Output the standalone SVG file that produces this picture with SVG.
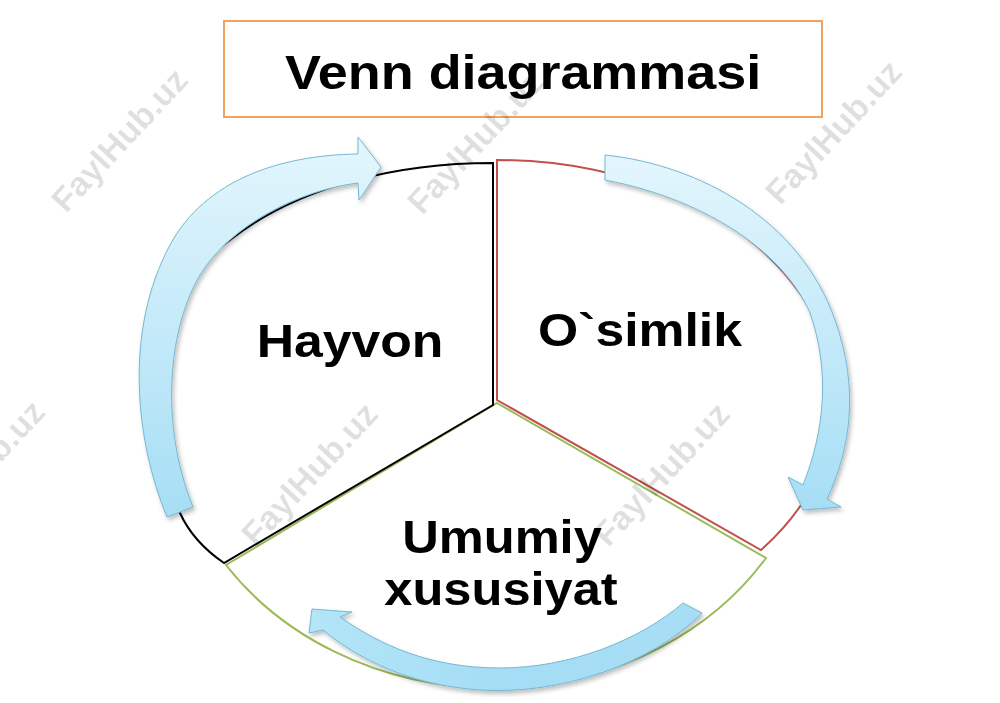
<svg xmlns="http://www.w3.org/2000/svg" width="1000" height="703" viewBox="0 0 1000 703">
  <style>
    .lbl { font-family: "Liberation Sans", Arial, sans-serif; font-weight: bold; fill: #000; text-anchor: middle; }
    .wm { font-family: "Liberation Sans", Arial, sans-serif; font-weight: bold; fill: #000; fill-opacity: 0.12; font-size: 34px; text-anchor: middle; }
    .arrow { stroke: #74b8d0; stroke-width: 1; stroke-linejoin: miter; filter: url(#shadow); }
  </style>
  <defs>
    <linearGradient id="gradV" x1="0" y1="0" x2="0" y2="1">
      <stop offset="0" stop-color="#e4f6fd"/>
      <stop offset="1" stop-color="#a6def5"/>
    </linearGradient>
    <linearGradient id="gradB" x1="0" y1="0" x2="1" y2="0">
      <stop offset="0" stop-color="#b4e5f8"/>
      <stop offset="0.5" stop-color="#a4ddf5"/>
      <stop offset="1" stop-color="#a8def5"/>
    </linearGradient>
    <filter id="shadow" x="-10%" y="-10%" width="130%" height="130%">
      <feDropShadow dx="2" dy="3" stdDeviation="2" flood-color="#000" flood-opacity="0.25"/>
    </filter>
  </defs>
  <rect width="1000" height="703" fill="#fff"/>

  <g id="title">
    <rect x="224" y="21" width="598" height="96" fill="#fff" stroke="#f1a25f" stroke-width="2"/>
    <text class="lbl" font-size="49" transform="translate(523,89) scale(1.1,1)">Venn diagrammasi</text>
  </g>

  <g id="sector-umumiy">
    <path d="M497,403 L766,558 A323,280 0 0 1 226,565 Z" fill="#fff" stroke="#9bbb59" stroke-width="2"/>
    <text class="lbl" font-size="46" transform="translate(502,553) scale(1.1,1)">Umumiy</text>
    <text class="lbl" font-size="46" transform="translate(501,605) scale(1.1,1)">xususiyat</text>
  </g>

  <g id="sector-hayvon">
    <path d="M493,405 L493,163 C400,163 300,185 230,240 C150,295 125,420 180,513 C190,535 205,550 224,563 Z" fill="#fff" stroke="#000" stroke-width="2"/>
    <text class="lbl" font-size="47" transform="translate(350,357) scale(1.1,1)">Hayvon</text>
  </g>

  <g id="sector-osimlik">
    <path d="M497,400 L497,160 A338,240 0 0 1 761,550 Z" fill="#fff" stroke="#c0504d" stroke-width="2"/>
    <text class="lbl" font-size="47" transform="translate(640,346) scale(1.1,1)">O`simlik</text>
  </g>

  <g id="connectors">
    <path class="arrow" fill="url(#gradV)" d="M167,517 C135,440 124,330 170,245 C205,180 280,155 358,154 L358,137 L381,167 L359,200 L358,183 C300,190 230,225 200,275 C170,325 158,420 193,507 Z"/>
    <path class="arrow" fill="url(#gradV)" d="M605,155 C700,165 800,220 835,320 C860,390 850,450 827,499 L841,507 L803,510 L788,477 L803,485 C825,430 830,370 810,313 C785,255 710,200 605,180 Z"/>
    <path class="arrow" fill="url(#gradB)" d="M683,603 L702,613 C650,665 560,695 480,690 C410,685 360,660 323,630 L309,633 L312,609 L352,612 L340,617 C380,645 430,668 500,668 C570,668 640,640 683,603 Z"/>
  </g>

  <g id="watermarks">
    <text class="wm" transform="translate(128,148) rotate(-47)">FaylHub.uz</text>
    <text class="wm" transform="translate(484,150) rotate(-47)">FaylHub.uz</text>
    <text class="wm" transform="translate(842,140) rotate(-47)">FaylHub.uz</text>
    <text class="wm" transform="translate(-15,480) rotate(-47)">FaylHub.uz</text>
    <text class="wm" transform="translate(318,482) rotate(-47)">FaylHub.uz</text>
    <text class="wm" transform="translate(670,482) rotate(-47)">FaylHub.uz</text>
  </g>
</svg>
